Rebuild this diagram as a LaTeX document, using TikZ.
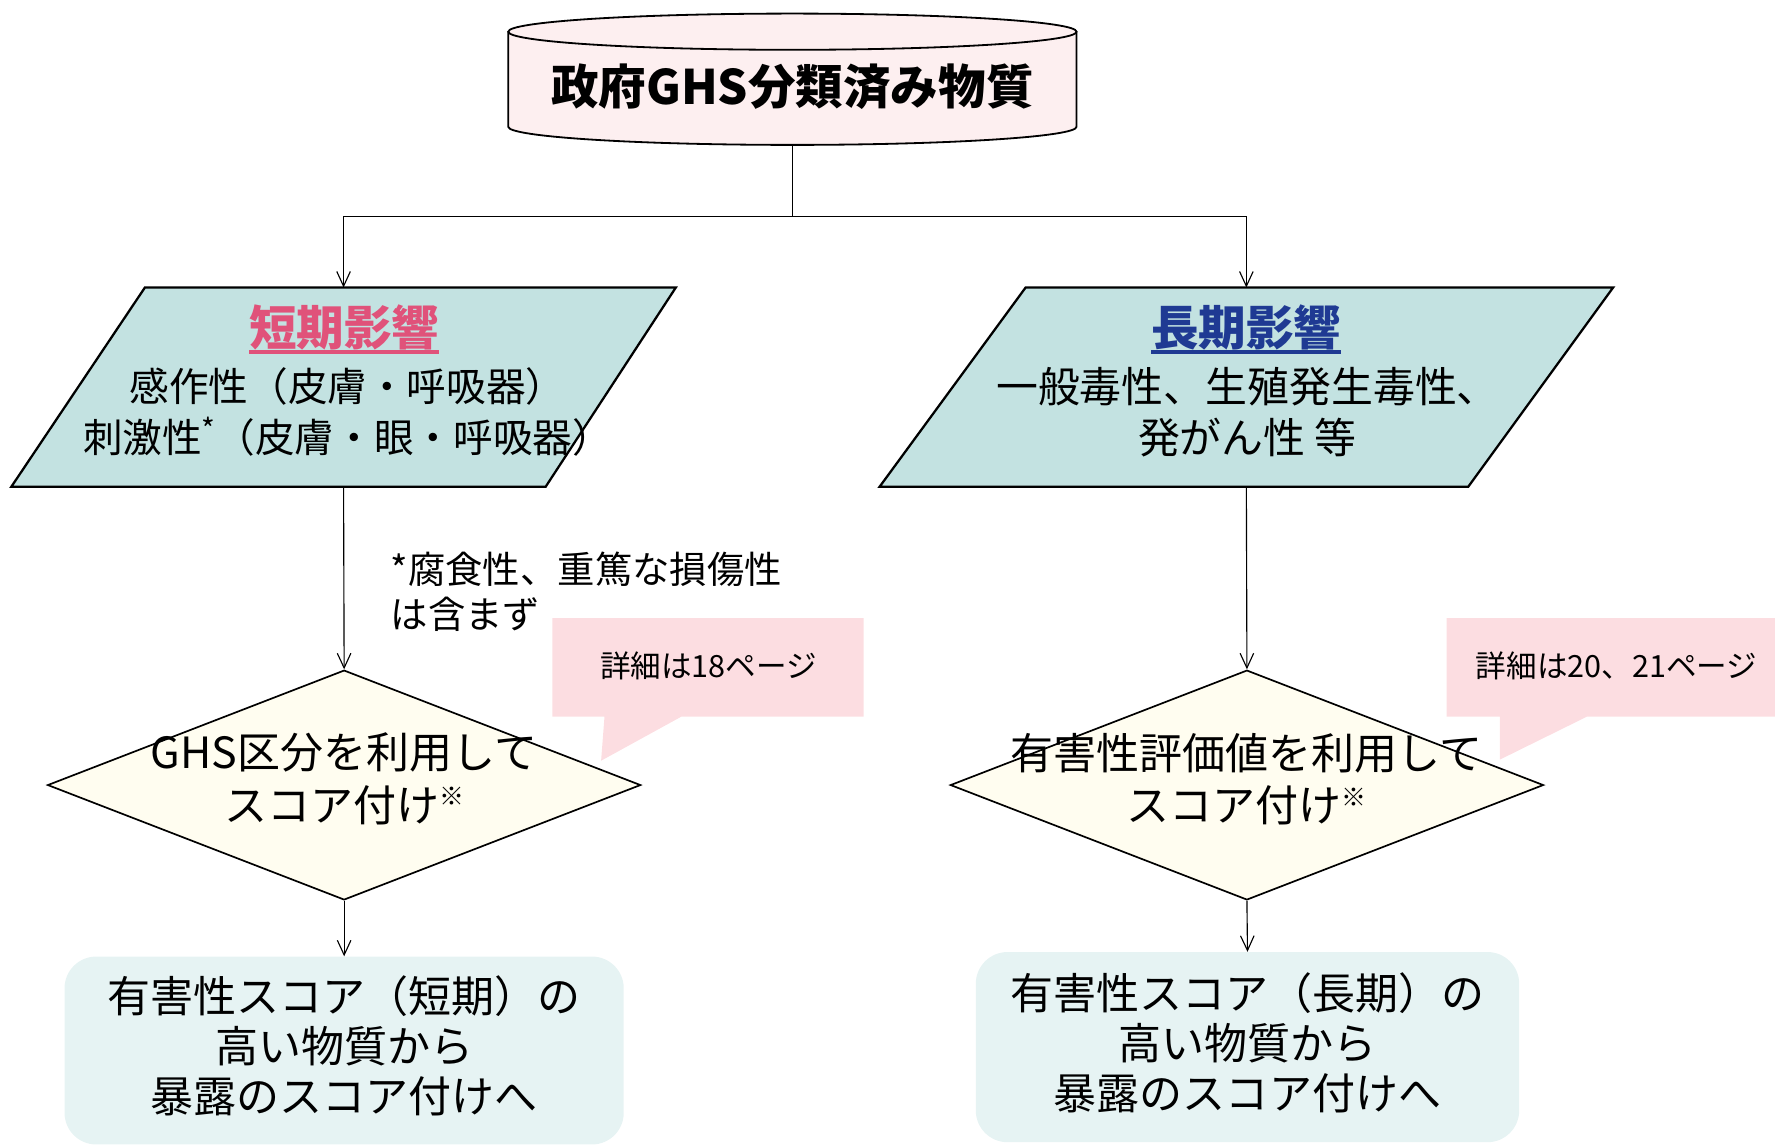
\documentclass[tikz,border=0pt]{standalone}
\usepackage{fontspec}
\setmainfont{Noto Sans CJK JP}
\usetikzlibrary{arrows.meta,shapes.geometric}
\definecolor{cylfill}{HTML}{FDEFF0}
\definecolor{parafill}{HTML}{C3E2E1}
\definecolor{shortcol}{HTML}{E0527A}
\definecolor{longcol}{HTML}{1F3A93}
\definecolor{callfill}{HTML}{FCDDE1}
\definecolor{diafill}{HTML}{FFFDF0}
\definecolor{boxfill}{HTML}{E6F3F3}
\newsavebox\myulbox
\newcommand\myul[2]{\sbox\myulbox{#2}\makebox[0pt][l]{\usebox\myulbox}{\color{#1}\rule[-7pt]{\wd\myulbox}{3pt}}}
\newcommand\fs[2]{\fontsize{#1}{#2}\selectfont}
\begin{document}
\begin{tikzpicture}[x=1pt,y=-1pt]
\tikzset{
  conn/.style={draw=black, line width=1pt},
  arr/.style={conn, -{Straight Barb[length=13pt,width=12pt]}},
  holder/.style={inner sep=0pt, outer sep=0pt},
  para/.style={draw=black, line width=2pt, fill=parafill},
  dia/.style={diamond, draw=black, line width=1.5pt, fill=diafill, inner sep=0pt, minimum width=524pt, minimum height=203pt},
  bbox/.style={rounded corners=28pt, fill=boxfill, inner sep=0pt},
  callout/.style={fill=callfill},
  titletext/.style={font=\fs{42}{50}\bfseries},
  bodytext/.style={align=center, inner sep=0pt},
  calltext/.style={font=\fs{27}{32}, inner sep=0pt},
}
\useasboundingbox (0,0) rectangle (1568,1011);

% cylinder
\fill[cylfill] (449,28) rectangle (951,112);
\fill[cylfill] (700,112) ellipse[x radius=251, y radius=16];
\draw[line width=1.6pt] (449,28) -- (449,112) arc[start angle=180, end angle=0, x radius=251, y radius=16] -- (951,28);
\draw[line width=1.6pt, fill=cylfill] (700,28) ellipse[x radius=251, y radius=16];
\node[titletext] (gov) at (700,77) {政府GHS分類済み物質};
\coordinate (govbot) at (700,128);
\coordinate (split) at (700,191);

% parallelograms
\draw[para] (128,254) -- (597,254) -- (482,430) -- (10,430) -- cycle;
\node[holder, minimum width=587pt, minimum height=176pt] (sp) at (303.5,342) {};
\draw[para] (906,254) -- (1425,254) -- (1297,430) -- (777,430) -- cycle;
\node[holder, minimum width=648pt, minimum height=176pt] (lp) at (1101,342) {};

\node[titletext, text=shortcol, inner sep=0pt] (spt) at (304,291) {\myul{shortcol}{短期影響}};
\node[bodytext, font=\fs{35}{45}] (spb) at (307,364) {感作性（皮膚・呼吸器）\\刺激性\raisebox{0.3em}{\fs{26}{26}*}（皮膚・眼・呼吸器）};
\node[titletext, text=longcol, inner sep=0pt] (lpt) at (1101,291) {\myul{longcol}{長期影響}};
\node[bodytext, font=\fs{37}{45}] (lpb) at (1102,364) {一般毒性、生殖発生毒性、\\発がん性 等};

% connectors top
\draw[conn] (govbot) -- (split);
\draw[arr] (split) -| (sp.north);
\draw[arr] (split) -| (lp.north);

% note
\node[anchor=west, align=left, font=\fs{33}{40}, inner sep=0pt] (note) at (345,523) {*腐食性、重篤な損傷性\\は含まず};

% diamonds
\node[dia] (d1) at (304,693.5) {};
\node[dia] (d2) at (1101.5,693.5) {};
\node[bodytext, font=\fs{38}{46}] (d1t) at (304,688) {GHS区分を利用して\\スコア付け\raisebox{0.35em}{\fs{22}{22}※}};
\node[bodytext, font=\fs{38}{46}] (d2t) at (1101,688) {有害性評価値を利用して\\スコア付け\raisebox{0.35em}{\fs{22}{22}※}};

% callouts
\fill[callout] (488,546) -- (763,546) -- (763,633) -- (602,633) -- (531,672) -- (534,633) -- (488,633) -- cycle;
\node[calltext] (c1) at (626,588) {詳細は18ページ};
\fill[callout] (1278,546) -- (1568,546) -- (1568,633) -- (1402,633) -- (1325,671) -- (1325,633) -- (1278,633) -- cycle;
\node[calltext] (c2) at (1428,588) {詳細は20、21ページ};

% arrows down
\draw[arr] (sp.south) -- (d1.north);
\draw[arr] (lp.south) -- (d2.north);

% bottom boxes
\node[bbox, minimum width=494pt, minimum height=166pt] (b1) at (304,928) {};
\node[bbox, minimum width=480pt, minimum height=168pt] (b2) at (1102,925) {};
\node[bodytext, font=\fs{38}{44}] (b1t) at (304,924) {有害性スコア（短期）の\\高い物質から\\暴露のスコア付けへ};
\node[bodytext, font=\fs{38}{44}] (b2t) at (1102,921) {有害性スコア（長期）の\\高い物質から\\暴露のスコア付けへ};

\draw[arr] (d1.south) -- (b1.north);
\draw[arr] (d2.south) -- (b2.north);
\end{tikzpicture}
\end{document}
